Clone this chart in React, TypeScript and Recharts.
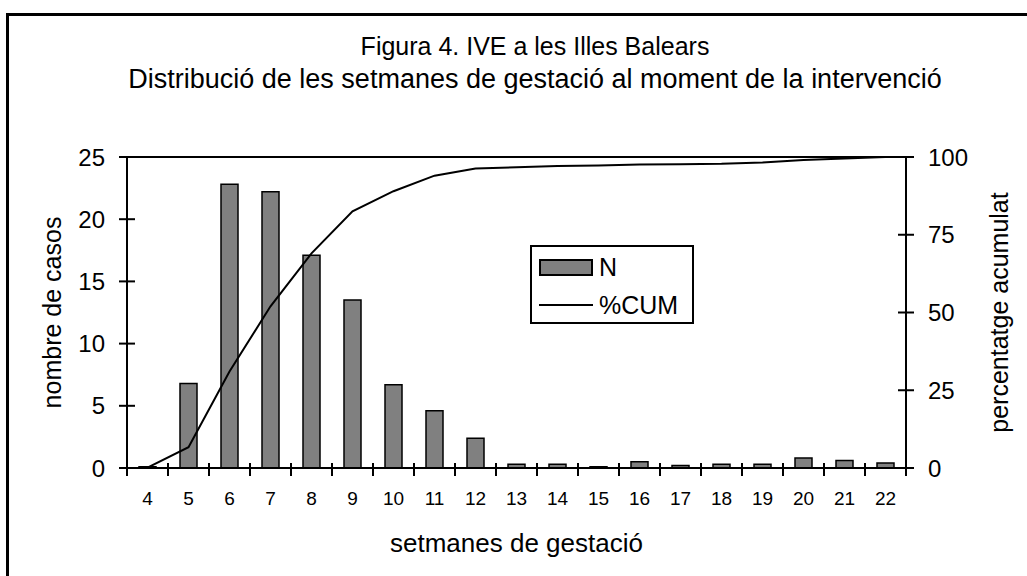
import React from 'react';
import { ComposedChart, Bar, Line, XAxis, YAxis, Legend, ReferenceLine } from 'recharts';

// setmanes de gestació (categories)
const weeks = ['4', '5', '6', '7', '8', '9', '10', '11', '12', '13', '14', '15', '16', '17', '18', '19', '20', '21', '22'];
// N: casos
const casesN = [0.1, 6.8, 22.8, 22.2, 17.1, 13.5, 6.7, 4.6, 2.4, 0.3, 0.3, 0.1, 0.5, 0.2, 0.3, 0.3, 0.8, 0.6, 0.4];
// %CUM: percentatge acumulat
const cumPct = [0.1, 6.7, 31, 52, 69, 82.5, 89, 94, 96.3, 96.7, 97.1, 97.3, 97.6, 97.7, 97.8, 98.2, 99, 99.5, 100];

const leftTicks = [0, 5, 10, 15, 20, 25];
const rightTicks = [0, 25, 50, 75, 100];

const W = 1027;
const H = 576;
const PLOT_LEFT = 127;
const PLOT_RIGHT = 906;
const PLOT_TOP = 157;
const PLOT_BOTTOM = 468;
const FONT = '"Liberation Sans", Arial, Helvetica, sans-serif';

const X_TICK_MARGIN = 24;
const Y_TICK_MARGIN = 22;

const data = weeks.map((w, i) => ({ week: w, N: casesN[i], cum: cumPct[i] }));

function WeekTick(props: any) {
    const { x, y, payload, index } = props;
    const band = (PLOT_RIGHT - PLOT_LEFT) / weeks.length;
    const axisY = y - X_TICK_MARGIN;
    const edges = [x - band / 2];
    if (index === weeks.length - 1) edges.push(x + band / 2);
    return (
        <g>
            {edges.map((ex) => (
                <line key={ex} x1={ex} x2={ex} y1={axisY - 5} y2={axisY + 8} stroke="#000" strokeWidth={2} />
            ))}
            <text x={x} y={y} dy="0.71em" textAnchor="middle" fontSize={19} fill="#000" fontFamily={FONT}>
                {payload.value}
            </text>
        </g>
    );
}

function LeftTick(props: any) {
    const { x, y, payload } = props;
    const axisX = x + Y_TICK_MARGIN;
    return (
        <g>
            <line x1={axisX - 8} x2={axisX + 8} y1={y} y2={y} stroke="#000" strokeWidth={2} />
            <text x={x} y={y} dy="0.36em" textAnchor="end" fontSize={24} fill="#000" fontFamily={FONT}>
                {payload.value}
            </text>
        </g>
    );
}

function RightTick(props: any) {
    const { x, y, payload } = props;
    const axisX = x - Y_TICK_MARGIN;
    return (
        <g>
            <line x1={axisX - 8} x2={axisX + 8} y1={y} y2={y} stroke="#000" strokeWidth={2} />
            <text x={x} y={y} dy="0.36em" textAnchor="start" fontSize={24} fill="#000" fontFamily={FONT}>
                {payload.value}
            </text>
        </g>
    );
}

function LegendBox(props: any) {
    // bar entry first, like the original
    const items = [...(props.payload || [])].sort(
        (a: any, b: any) => (a.type === 'rect' ? 0 : 1) - (b.type === 'rect' ? 0 : 1)
    );
    return (
        <div
            style={{
                width: 164,
                height: 79,
                border: '2px solid #000',
                boxSizing: 'border-box',
                background: '#fff',
                fontFamily: FONT,
                fontSize: 25,
                color: '#000',
                paddingTop: 1,
            }}
        >
            {items.map((item: any) => (
                <div key={item.value} style={{ display: 'flex', alignItems: 'center', height: 38 }}>
                    <div style={{ width: 7 }} />
                    {item.type === 'rect' ? (
                        <div style={{ width: 54, height: 17, background: '#808080', border: '2px solid #000', boxSizing: 'border-box' }} />
                    ) : (
                        <div style={{ width: 54, height: 2, background: '#000' }} />
                    )}
                    <span style={{ marginLeft: 6, lineHeight: '38px' }}>{item.value}</span>
                </div>
            ))}
        </div>
    );
}

export default function App() {
    return (
        <div style={{ position: 'absolute', left: 0, top: 0, width: W, height: H, overflow: 'hidden', background: '#fff' }}>
            <div
                style={{
                    position: 'absolute',
                    left: 6,
                    top: 13,
                    width: W + 50,
                    height: H + 50,
                    border: '3px solid #000',
                    boxSizing: 'border-box',
                }}
            />
            <div
                style={{
                    position: 'absolute',
                    left: 35,
                    width: 1000,
                    top: 30,
                    textAlign: 'center',
                    fontFamily: FONT,
                    color: '#000',
                }}
            >
                <div style={{ fontSize: 25, lineHeight: '33px' }}>Figura 4. IVE a les Illes Balears</div>
                <div style={{ fontSize: 27, lineHeight: '33px' }}>Distribució de les setmanes de gestació al moment de la intervenció</div>
            </div>
            <div style={{ position: 'absolute', left: 0, top: 0 }}>
                <ComposedChart
                    width={W}
                    height={H}
                    data={data}
                    margin={{ top: PLOT_TOP, right: 0, bottom: 0, left: 0 }}
                    barSize={17}
                >
                    <XAxis
                        dataKey="week"
                        height={H - PLOT_BOTTOM}
                        interval={0}
                        tickSize={0}
                        tickMargin={X_TICK_MARGIN}
                        tickLine={false}
                        axisLine={{ stroke: '#000', strokeWidth: 2 }}
                        tick={<WeekTick />}
                        label={{ value: 'setmanes de gestació', position: 'insideBottom', offset: 24, fontSize: 26, fill: '#000', fontFamily: FONT }}
                    />
                    <YAxis
                        yAxisId="left"
                        width={PLOT_LEFT}
                        domain={[0, 25]}
                        ticks={leftTicks}
                        interval={0}
                        tickSize={0}
                        tickMargin={Y_TICK_MARGIN}
                        tickLine={false}
                        axisLine={{ stroke: '#000', strokeWidth: 2 }}
                        tick={<LeftTick />}
                        label={{ value: 'nombre de casos', angle: -90, position: 'center', dx: -11, fontSize: 25, fill: '#000', fontFamily: FONT }}
                    />
                    <YAxis
                        yAxisId="right"
                        orientation="right"
                        width={W - PLOT_RIGHT}
                        domain={[0, 100]}
                        ticks={rightTicks}
                        interval={0}
                        tickSize={0}
                        tickMargin={Y_TICK_MARGIN}
                        tickLine={false}
                        axisLine={{ stroke: '#000', strokeWidth: 2 }}
                        tick={<RightTick />}
                        label={{ value: 'percentatge acumulat', angle: -90, position: 'center', dx: 33, fontSize: 25, fill: '#000', fontFamily: FONT }}
                    />
                    <ReferenceLine yAxisId="left" y={25} stroke="#000" strokeWidth={2} />
                    <Legend
                        layout="vertical"
                        align="center"
                        verticalAlign="middle"
                        content={<LegendBox />}
                        wrapperStyle={{ position: 'absolute', left: 530, top: 245, width: 164, height: 79 }}
                    />
                    <Bar
                        yAxisId="left"
                        dataKey="N"
                        name="N"
                        legendType="rect"
                        fill="#808080"
                        stroke="#000"
                        strokeWidth={1.5}
                        isAnimationActive={false}
                    />
                    <Line
                        yAxisId="right"
                        dataKey="cum"
                        name="%CUM"
                        legendType="plainline"
                        type="linear"
                        stroke="#000"
                        strokeWidth={2}
                        dot={false}
                        activeDot={false}
                        isAnimationActive={false}
                    />
                </ComposedChart>
            </div>
        </div>
    );
}
